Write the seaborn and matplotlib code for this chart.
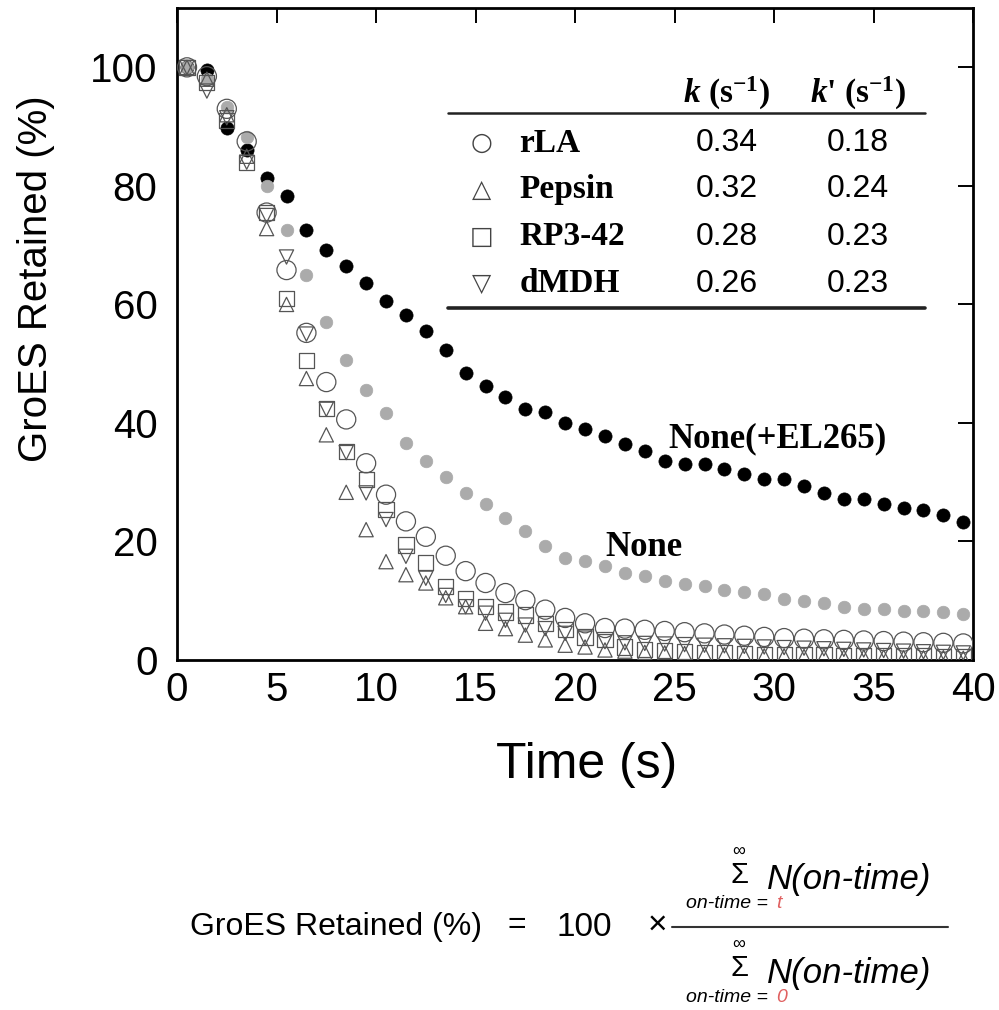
import matplotlib
matplotlib.use("Agg")
import matplotlib.pyplot as plt
import seaborn as sns
import pandas as pd

# ---------------- data ----------------
time_s = [0.5, 1.5, 2.5, 3.5, 4.5, 5.5, 6.5, 7.5, 8.5, 9.5,
          10.5, 11.5, 12.5, 13.5, 14.5, 15.5, 16.5, 17.5, 18.5, 19.5,
          20.5, 21.5, 22.5, 23.5, 24.5, 25.5, 26.5, 27.5, 28.5, 29.5,
          30.5, 31.5, 32.5, 33.5, 34.5, 35.5, 36.5, 37.5, 38.5, 39.5]

none_el265 = [100, 99.5, 89.8, 86.1, 81.4, 78.3, 72.5, 69.1, 66.4, 63.6,
              60.5, 58.2, 55.6, 52.3, 48.4, 46.2, 44.3, 42.3, 41.8, 40.0,
              38.9, 37.8, 36.4, 35.3, 33.6, 33.1, 33.1, 32.2, 31.4, 30.6,
              30.6, 29.4, 28.1, 27.2, 27.1, 26.4, 25.6, 25.3, 24.4, 23.3]

none_vals = [100, 98.0, 93.3, 88.3, 80.0, 72.5, 65.0, 57.0, 50.6, 45.6,
             41.7, 36.6, 33.5, 30.8, 28.1, 26.4, 23.9, 21.7, 19.2, 17.2,
             16.7, 15.8, 14.7, 14.2, 13.3, 12.9, 12.5, 11.9, 11.4, 11.1,
             10.3, 10.0, 9.7, 9.0, 8.6, 8.6, 8.3, 8.2, 8.1, 7.8]

rla = [100, 98.5, 93.0, 87.5, 75.5, 65.8, 55.2, 46.9, 40.6, 33.2,
       27.9, 23.4, 20.8, 17.6, 15.0, 13.0, 11.3, 10.1, 8.5, 7.1,
       6.2, 5.4, 5.3, 5.1, 4.9, 4.7, 4.5, 4.3, 4.1, 3.9,
       3.7, 3.6, 3.5, 3.4, 3.3, 3.2, 3.1, 3.0, 2.9, 2.8]

pepsin = [100, 98.0, 92.0, 85.0, 72.8, 60.0, 47.5, 38.0, 28.3, 22.0,
          16.6, 14.4, 13.0, 10.5, 9.0, 6.2, 5.3, 4.2, 3.4, 2.5,
          2.2, 1.7, 1.5, 1.3, 1.2, 1.1, 1.0, 0.9, 0.8, 0.7,
          0.7, 0.6, 0.6, 0.5, 0.5, 0.5, 0.4, 0.4, 0.4, 0.3]

rp3_42 = [100, 97.5, 91.0, 84.0, 75.5, 61.0, 50.6, 42.5, 35.2, 30.4,
          25.4, 19.4, 16.5, 12.4, 10.4, 9.0, 8.1, 7.6, 6.2, 5.1,
          3.9, 3.4, 2.2, 1.8, 1.6, 1.4, 1.3, 1.2, 1.1, 1.0,
          1.0, 0.9, 0.9, 0.8, 0.8, 0.7, 0.7, 0.7, 0.6, 0.6]

dmdh = [100, 96.0, 91.5, 84.0, 75.0, 68.0, 55.0, 42.3, 35.0, 28.2,
        23.7, 17.5, 13.8, 10.9, 9.0, 7.9, 6.7, 5.9, 5.3, 4.5,
        3.7, 3.1, 2.9, 2.8, 2.7, 2.6, 2.5, 2.4, 2.3, 2.2,
        2.1, 2.0, 1.9, 1.8, 1.7, 1.6, 1.5, 1.4, 1.3, 1.2]

x_ticks = [0, 5, 10, 15, 20, 25, 30, 35, 40]
y_ticks = [0, 20, 40, 60, 80, 100]

table_names = ["rLA", "Pepsin", "RP3-42", "dMDH"]
table_symbols = ["\u25CB", "\u25B3", "\u25A1", "\u25BD"]
k_values = ["0.34", "0.32", "0.28", "0.26"]
kprime_values = ["0.18", "0.24", "0.23", "0.23"]

# ---------------- style ----------------
sns.set_style("white")
plt.rcParams["font.family"] = ["Liberation Sans", "DejaVu Sans"]
plt.rcParams["text.color"] = "black"
plt.rcParams["axes.labelcolor"] = "black"
plt.rcParams["xtick.color"] = "black"
plt.rcParams["ytick.color"] = "black"
plt.rcParams["mathtext.fontset"] = "custom"
plt.rcParams["mathtext.rm"] = "Liberation Serif:bold"
plt.rcParams["mathtext.it"] = "Liberation Serif:italic:bold"
plt.rcParams["mathtext.bf"] = "Liberation Serif:bold"

fig = plt.figure(figsize=(9.99, 10.10), dpi=100)
ax = fig.add_axes([0.1772, 0.3465, 0.797, 0.6455])

df = pd.DataFrame({"time": time_s, "none_el": none_el265, "none": none_vals,
                   "rLA": rla, "Pepsin": pepsin, "RP3-42": rp3_42, "dMDH": dmdh})

sns.scatterplot(data=df, x="time", y="none_el", ax=ax, color="black",
                edgecolor="black", s=90, linewidth=0.5, zorder=2, legend=False)
sns.scatterplot(data=df, x="time", y="none", ax=ax, color="#ababab",
                edgecolor="#ababab", s=82, linewidth=0.5, zorder=3, legend=False)

open_specs = [("rLA", "o", 190), ("Pepsin", "^", 105),
              ("RP3-42", "s", 120), ("dMDH", "v", 105)]
for col, mk, size in open_specs:
    sns.scatterplot(data=df, x="time", y=col, ax=ax, marker=mk, s=size,
                    color="none", edgecolor="#555555", linewidth=0.9,
                    zorder=4, legend=False)

ax.set_xlim(0, 40)
ax.set_ylim(0, 110)
ax.set_xticks(x_ticks)
ax.set_yticks(y_ticks)
ax.set_xticklabels([str(v) for v in x_ticks])
ax.set_yticklabels([str(v) for v in y_ticks])
ax.tick_params(direction="in", length=11, width=1.4, top=True, right=True,
               labelsize=29, colors="black")
ax.tick_params(axis="x", pad=8)
ax.tick_params(axis="y", pad=14)
for sp in ax.spines.values():
    sp.set_visible(True)
    sp.set_linewidth(2.0)
    sp.set_color("black")

ax.set_xlabel("Time (s)", fontsize=36, color="black")
ax.set_ylabel("GroES Retained (%)", fontsize=29, color="black")
ax.xaxis.set_label_coords(0.515, -0.126)
ax.yaxis.set_label_coords(-0.153, 0.585)

# ---------------- inset table ----------------
ax.axhline(92.3, xmin=0.340, xmax=0.940, color="#222222", lw=1.8)
ax.axhline(59.4, xmin=0.340, xmax=0.940, color="#222222", lw=2.6)

hdr_kw = dict(fontsize=24, fontfamily="Liberation Serif", fontweight="bold",
              ha="center", va="center")
ax.text(27.6, 95.6, r"$k$ (s$^{-1}$)", **hdr_kw)
ax.text(34.2, 95.6, r"$k$' (s$^{-1}$)", **hdr_kw)

row_y = [87.2, 79.4, 71.4, 63.5]
for yy, sym, name, kv, kp in zip(row_y, table_symbols, table_names,
                                 k_values, kprime_values):
    ax.text(15.3, yy, sym, fontsize=18, fontfamily="DejaVu Sans",
            color="#444444", ha="center", va="center")
    ax.text(17.2, yy, name, fontsize=24, fontfamily="Liberation Serif",
            fontweight="bold", ha="left", va="center")
    ax.text(27.6, yy, kv, fontsize=23, ha="center", va="center")
    ax.text(34.2, yy, kp, fontsize=23, ha="center", va="center")

ax.text(24.7, 37.3, "None(+EL265)", fontsize=25, fontfamily="Liberation Serif",
        fontweight="bold", ha="left", va="center")
ax.text(21.5, 19.0, "None", fontsize=25, fontfamily="Liberation Serif",
        fontweight="bold", ha="left", va="center")

# ---------------- formula below ----------------
W, H = 999.0, 1010.0
def fx(px):
    return px / W
def fy(py):
    return 1 - py / H

fam = ["Liberation Sans", "DejaVu Sans"]
fig.text(fx(190), fy(927), "GroES Retained (%)", fontsize=23, family=fam,
         ha="left", va="center")
fig.text(fx(517), fy(925), "=", fontsize=23, family=fam, ha="center", va="center")
fig.text(fx(584), fy(927), "100", fontsize=24, family=fam, ha="center", va="center")
fig.text(fx(657), fy(925), "\u00D7", fontsize=24, family=fam, ha="center", va="center")
fig.add_artist(plt.Line2D([fx(672), fx(948)], [fy(927), fy(927)],
                          color="#333333", lw=1.5))

for base, lower in [(0, "t"), (93, "0")]:
    fig.text(fx(739), fy(851 + base), "\u221E", fontsize=13, family=fam,
             ha="center", va="center")
    fig.text(fx(739), fy(875 + base), "\u03A3", fontsize=21, family=fam,
             ha="center", va="center")
    fig.text(fx(767), fy(880 + base), "N(on-time)", fontsize=25, family=fam,
             style="italic", ha="left", va="center")
    fig.text(fx(686), fy(904 + base), "on-time =", fontsize=14, family=fam,
             style="italic", ha="left", va="center")
    fig.text(fx(776), fy(904 + base), lower, fontsize=14, family=fam,
             style="italic", color="#e06060", ha="left", va="center")

fig.savefig("out.png", dpi=100)
